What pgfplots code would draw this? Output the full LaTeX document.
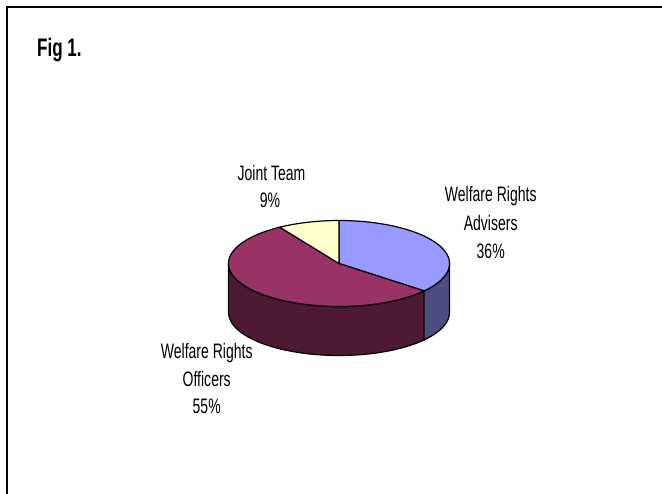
\documentclass[border=0pt]{standalone}
\usepackage{fontspec}
\newfontfamily\lab[FakeStretch=0.67]{Liberation Sans}
\usepackage{pgfplots}
\usepackage{pgfplotstable}
\pgfplotsset{compat=1.18}
\definecolor{advTop}{HTML}{9999FF}
\definecolor{advSide}{HTML}{4D4D80}
\definecolor{offTop}{HTML}{993366}
\definecolor{offSide}{HTML}{4D1933}
\definecolor{jtTop}{HTML}{FFFFCC}
\pgfplotstableread{
label pct
Advisers 36
Officers 55
Joint 9
}\piedata
\def\cx{339}\def\cy{263.5}\def\rx{110.5}\def\ry{43}\def\dep{49}
\begin{document}%
\begin{tikzpicture}
\pgfplotstablegetelem{0}{pct}\of\piedata \let\pA\pgfplotsretval
\pgfplotstablegetelem{1}{pct}\of\piedata \let\pB\pgfplotsretval
\pgfplotstablegetelem{2}{pct}\of\piedata \let\pC\pgfplotsretval
\pgfmathsetmacro\aB{90-3.6*\pA}
\pgfmathsetmacro\aC{\aB-3.6*\pB}
\pgfmathsetmacro\aD{\aC-3.6*\pC}
\pgfmathsetmacro\bBx{\cx+\rx*cos(\aB)}
\pgfmathsetmacro\bBy{\cy-\ry*sin(\aB)+\dep}
\pgfmathsetmacro\bZx{\cx+\rx}
\pgfmathsetmacro\bZy{\cy+\dep}
\begin{axis}[hide axis, scale only axis, width=662bp, height=494bp,
  xmin=0, xmax=662, ymin=0, ymax=494, y dir=reverse, clip=false,
  at={(0,0)}, anchor=south west]
% frame
\draw[line width=2bp, black] (axis cs:6.7,494) -- (axis cs:6.7,6.7) -- (axis cs:662,6.7);
% side faces
\addplot[fill=offSide, draw=black, line width=1.2bp, domain=-180:\aB, samples=80]
  ({\cx+\rx*cos(x)},{\cy-\ry*sin(x)}) -- (axis cs:\bBx,\bBy)
  arc[start angle=\aB, end angle=-180, x radius=\rx bp, y radius=\ry bp] -- cycle;
\addplot[fill=advSide, draw=black, line width=1.2bp, domain=\aB:0, samples=40]
  ({\cx+\rx*cos(x)},{\cy-\ry*sin(x)}) -- (axis cs:\bZx,\bZy)
  arc[start angle=0, end angle=\aB, x radius=\rx bp, y radius=\ry bp] -- cycle;
% top slices
\addplot[fill=advTop, draw=black, line width=1.2bp, domain=\aB:90, samples=80]
  ({\cx+\rx*cos(x)},{\cy-\ry*sin(x)}) -- (axis cs:\cx,\cy) -- cycle;
\addplot[fill=offTop, draw=black, line width=1.2bp, domain=\aC:\aB, samples=100]
  ({\cx+\rx*cos(x)},{\cy-\ry*sin(x)}) -- (axis cs:\cx,\cy) -- cycle;
\addplot[fill=jtTop, draw=black, line width=1.2bp, domain=\aD:\aC, samples=30]
  ({\cx+\rx*cos(x)},{\cy-\ry*sin(x)}) -- (axis cs:\cx,\cy) -- cycle;
% texts
\node[anchor=base west, inner sep=0pt] at (axis cs:37,56.7) {\lab\fontsize{25.5}{30}\selectfont\bfseries Fig 1.};
\begin{scope}[every node/.style={anchor=base, inner sep=0pt, font=\lab\fontsize{21}{28}\selectfont}]
\node at (axis cs:271.5,180) {Joint Team};
\node at (axis cs:270,207) {9\%};
\node at (axis cs:490.7,201.7) {Welfare Rights};
\node at (axis cs:490.7,230) {Advisers};
\node at (axis cs:490.7,258) {36\%};
\node at (axis cs:206.7,358.3) {Welfare Rights};
\node at (axis cs:206.7,386) {Officers};
\node at (axis cs:206.7,413) {55\%};
\end{scope}
\end{axis}
\pgfresetboundingbox
\path[use as bounding box] (0,0) rectangle (662bp,494bp);
\end{tikzpicture}%
\end{document}
